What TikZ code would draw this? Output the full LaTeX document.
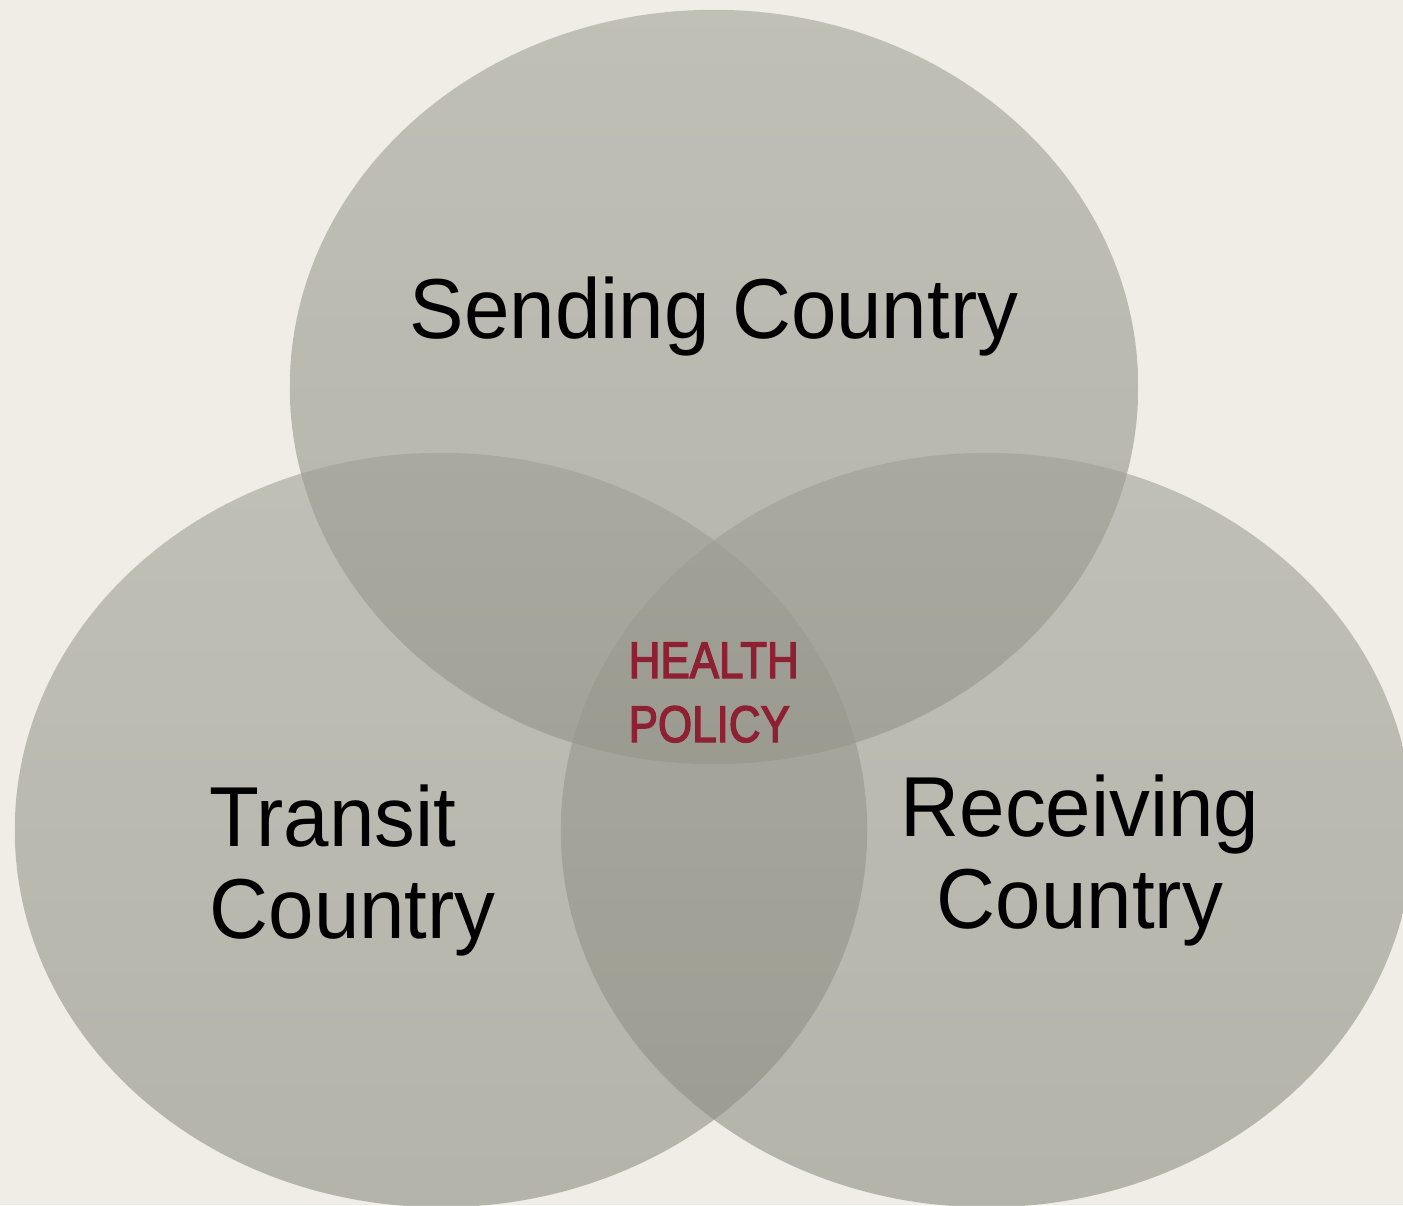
\documentclass[tikz,border=0pt]{standalone}
\usepackage{fontspec}
\usetikzlibrary{shapes.geometric}
\newfontfamily\circlefont{Liberation Sans}[FakeStretch=0.96]
\newfontfamily\corefont{Liberation Sans}[FakeStretch=0.85, FakeBold=2.5]
\definecolor{paper}{RGB}{239,237,230}
\definecolor{discTop}{RGB}{158,158,148}
\definecolor{discBottom}{RGB}{137,137,126}
\definecolor{policyred}{RGB}{142,32,52}
\tikzset{
  disc/.style={ellipse, inner sep=0pt, draw=none,
    minimum width=8.5cm, minimum height=7.54cm,
    top color=discTop, bottom color=discBottom, fill opacity=0.57},
  circlelabel/.style={inner sep=0pt, font=\circlefont\fontsize{24.2}{25.9}\selectfont, text=black},
  corelabel/.style={inner sep=0pt, font=\corefont\fontsize{14.7}{18.2}\selectfont, text=policyred}
}
\begin{document}
\begin{tikzpicture}[x=0.01cm, y=-0.01cm]
  % page and background
  \fill[paper] (0,0) rectangle (1403,1205);
  \useasboundingbox (0,0) rectangle (1403,1205);
  \clip (0,0) rectangle (1403,1205);

  % three overlapping discs
  \node[disc, minimum width=8.48cm] (sending) at (714,387) {};
  \node[disc, minimum width=8.52cm] (transit) at (441,830) {};
  \node[disc, minimum width=8.52cm] (receiving) at (987,830) {};

  % labels (base anchor of a two-line node sits on its last line)
  \node[circlelabel, anchor=base] (sendlbl) at (714,338) {Sending Country};
  \node[circlelabel, anchor=base west, align=left] (translbl) at (209,938) {Transit\\Country};
  \node[circlelabel, anchor=base, align=center] (recvlbl) at (1080,928) {Receiving\\Country};
  \node[corelabel, anchor=base west, align=left] (policy) at (628,742) {HEALTH\\POLICY};
\end{tikzpicture}
\end{document}
